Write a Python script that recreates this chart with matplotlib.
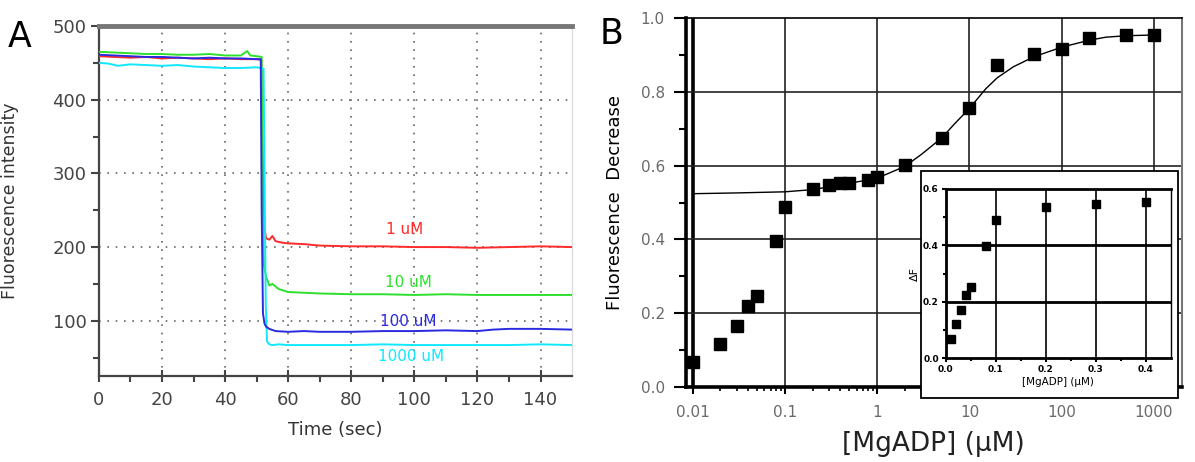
import numpy as np
import matplotlib.pyplot as plt
from matplotlib.patches import Rectangle
from matplotlib.ticker import FixedLocator, NullFormatter

# ---- panel A: fluorescence traces (time in sec, intensity) ----
t_red = [0, 5, 10, 15, 20, 25, 30, 35, 40, 45, 50, 51.5, 51.9, 52.3, 53, 54, 55, 56, 58,
         60, 65, 70, 80, 90, 100, 110, 120, 130, 140, 150]
f_red = [459, 458, 457, 458, 456, 457, 456, 455, 456, 455, 455, 454, 330, 230, 212, 210, 215, 208, 206,
         205, 204, 202, 201, 201, 200, 200, 199, 200, 201, 200]

t_green = [0, 5, 10, 15, 20, 25, 30, 35, 40, 45, 47, 48, 50, 51.6, 51.9, 52.3, 53, 54, 55, 57, 60, 65, 70,
           80, 90, 100, 110, 120, 130, 140, 150]
f_green = [465, 464, 463, 462, 462, 461, 461, 462, 460, 460, 466, 460, 459, 458, 260, 175, 160, 148, 150, 143, 139, 138, 137,
           136, 136, 135, 136, 135, 135, 135, 135]

t_blue = [0, 5, 10, 15, 20, 25, 30, 35, 40, 45, 50, 51.3, 51.6, 52, 52.5, 53, 54, 56,
          60, 65, 70, 80, 90, 100, 110, 120, 125, 130, 140, 150]
f_blue = [461, 460, 459, 458, 458, 457, 456, 457, 456, 456, 455, 455, 250, 110, 96, 92, 89, 86,
          85, 86, 85, 85, 86, 86, 87, 86, 88, 89, 89, 88]

t_cyan = [0, 3, 6, 10, 15, 20, 25, 30, 35, 40, 45, 50, 52.2, 52.5, 52.9, 53.3, 54, 55, 57,
          60, 70, 80, 90, 100, 110, 120, 130, 140, 150]
f_cyan = [450, 449, 446, 448, 447, 446, 447, 445, 444, 443, 443, 444, 442, 300, 120, 72, 68, 67, 68,
          67, 67, 67, 68, 67, 67, 67, 67, 68, 67]

trace_labels = ['1 uM', '10 uM', '100 uM', '1000 uM']
label_x = [97, 98, 98, 99]
label_y = [224, 152, 99, 52]

# ---- panel B: titration ----
conc = [0.01, 0.02, 0.03, 0.04, 0.05, 0.08, 0.1, 0.2, 0.3, 0.4, 0.5, 0.8, 1, 2, 5, 10, 20, 50, 100, 200, 500, 1000]
decr = [0.067, 0.117, 0.166, 0.220, 0.248, 0.395, 0.488, 0.537, 0.548, 0.554, 0.554, 0.561, 0.570, 0.602,
        0.674, 0.755, 0.872, 0.902, 0.917, 0.947, 0.953, 0.953]

fit_x = [0.0105, 0.03, 0.1, 0.2, 0.5, 1, 2, 3, 5, 7, 10, 15, 20, 30, 50, 100, 200, 300, 500, 1000]
fit_y = [0.524, 0.526, 0.529, 0.535, 0.552, 0.566, 0.598, 0.630, 0.675, 0.715, 0.755, 0.808, 0.838, 0.868,
         0.895, 0.921, 0.940, 0.948, 0.952, 0.954]

# inset (linear scale, low concentrations)
ins_x = [0.01, 0.02, 0.03, 0.04, 0.05, 0.08, 0.1, 0.2, 0.3, 0.4]
ins_y = [0.068, 0.122, 0.170, 0.226, 0.252, 0.398, 0.490, 0.537, 0.548, 0.555]

fig = plt.figure(figsize=(11.95, 4.62), dpi=100)

# ================= panel A =================
axA = fig.add_axes([0.0828, 0.1861, 0.3959, 0.7576])
axA.set_xlim(0, 150)
axA.set_ylim(25, 500)

cols = ['#ff2a2a', '#2ee02e', '#2a2ae0', '#10e8ff']
axA.plot(t_red, f_red, color=cols[0], lw=1.4, zorder=3)
axA.plot(t_green, f_green, color=cols[1], lw=1.4, zorder=3)
axA.plot(t_blue, f_blue, color=cols[2], lw=1.4, zorder=4)
axA.plot(t_cyan, f_cyan, color=cols[3], lw=1.4, zorder=3)

for lab, x, y, c in zip(trace_labels, label_x, label_y, cols):
    axA.text(x, y, lab, color=c, fontsize=11, ha='center', va='center', zorder=5)

dot = (0, (1, 4))
for xv in range(20, 150, 20):
    axA.axvline(xv, color='#666666', lw=1.2, ls=dot, zorder=1)
for yv in range(100, 500, 100):
    axA.axhline(yv, color='#666666', lw=1.2, ls=dot, zorder=1)

axA.set_xticks(range(0, 150, 20))
axA.set_xticks(range(10, 150, 20), minor=True)
axA.set_yticks(range(100, 501, 100))
axA.set_yticks(range(50, 500, 100), minor=True)
axA.tick_params(axis='x', which='major', direction='inout', length=9, width=1.5, color='#444444',
                labelsize=13, labelcolor='#444444', pad=6)
axA.tick_params(axis='x', which='minor', direction='out', length=4, width=1.5, color='#444444')
axA.tick_params(axis='y', which='major', direction='out', length=6, width=1.5, color='#444444',
                labelsize=13, labelcolor='#444444', pad=3)
axA.tick_params(axis='y', which='minor', direction='out', length=4, width=1.5, color='#444444')

axA.spines['left'].set_color('#444444')
axA.spines['left'].set_linewidth(1.6)
axA.spines['bottom'].set_color('#444444')
axA.spines['bottom'].set_linewidth(1.6)
axA.spines['top'].set_color('#777777')
axA.spines['top'].set_linewidth(3.5)
axA.spines['right'].set_color('#dddddd')
axA.spines['right'].set_linewidth(1.0)

axA.set_xlabel('Time (sec)', fontsize=13, color='#333333', labelpad=9)
axA.set_ylabel('Fluorescence intensity', fontsize=12.5, color='#333333')
axA.yaxis.set_label_coords(-0.168, 0.5)

fig.text(0.0167, 0.92, 'A', fontsize=25, ha='center', va='center')

# ================= panel B =================
axB = fig.add_axes([0.5738, 0.1623, 0.4151, 0.7987])
axB.set_xscale('log')
axB.set_xlim(0.0084, 2000)
axB.set_ylim(0, 1.0)

for xv in [0.1, 1, 10, 100, 1000]:
    axB.axvline(xv, color='#333333', lw=1.3, zorder=1)
axB.axvline(0.01, color='black', lw=2.6, zorder=1)
for yv in [0.2, 0.4, 0.6, 0.8]:
    axB.axhline(yv, color='#222222', lw=1.2, zorder=1)

axB.plot(fit_x, fit_y, color='black', lw=1.0, zorder=2)
axB.plot(conc, decr, ls='none', marker='s', ms=8.5, color='black', zorder=3)

axB.xaxis.set_major_locator(FixedLocator([0.01, 0.1, 1, 10, 100, 1000]))
minors = [m * d for d in [0.01, 0.1, 1, 10, 100, 1000] for m in range(2, 10) if m * d < 2000]
axB.xaxis.set_minor_locator(FixedLocator(minors))
axB.xaxis.set_minor_formatter(NullFormatter())
axB.set_xticklabels(['0.01', '0.1', '1', '10', '100', '1000'])
axB.set_yticks([0.0, 0.2, 0.4, 0.6, 0.8, 1.0])
axB.set_yticklabels(['0.0', '0.2', '0.4', '0.6', '0.8', '1.0'])
axB.set_yticks([0.1, 0.3, 0.5, 0.7, 0.9], minor=True)
axB.tick_params(axis='x', which='major', direction='out', length=5, width=1.5,
                labelsize=11, labelcolor='#6a6a6a', pad=8)
axB.tick_params(axis='x', which='minor', direction='out', length=3, width=1.2)
axB.tick_params(axis='y', which='major', direction='out', length=9, width=1.5,
                labelsize=11, labelcolor='#6a6a6a', pad=6)
axB.tick_params(axis='y', which='minor', direction='out', length=5, width=1.5)

axB.spines['left'].set_linewidth(2.6)
axB.spines['bottom'].set_linewidth(2.6)
axB.spines['top'].set_linewidth(1.2)
axB.spines['right'].set_color('#777777')
axB.spines['right'].set_linewidth(1.5)

axB.set_ylabel('Fluorescence  Decrease', fontsize=13, labelpad=4)
axB.yaxis.set_label_coords(-0.125, 0.5)
axB.set_xlabel('[MgADP] (μM)', fontsize=19, labelpad=8, color='#222222')

fig.text(0.512, 0.926, 'B', fontsize=25, ha='center', va='center')

# ---- inset box and axes ----
box = Rectangle((0.7707, 0.1385), 0.2151, 0.4913, transform=fig.transFigure,
                facecolor='white', edgecolor='black', lw=1.3, zorder=5)
fig.add_artist(box)

axI = fig.add_axes([0.7914, 0.2245, 0.1883, 0.3665])
axI.set_zorder(6)
axI.set_xlim(0, 0.45)
axI.set_ylim(0, 0.6)
for xv in [0.1, 0.2, 0.3, 0.4]:
    axI.axvline(xv, color='black', lw=1.2, zorder=1)
for yv in [0.2, 0.4]:
    axI.axhline(yv, color='black', lw=2.0, zorder=1)
axI.plot(ins_x, ins_y, ls='none', marker='s', ms=5.5, color='black', zorder=3)

axI.set_xticks([0.0, 0.1, 0.2, 0.3, 0.4])
axI.set_xticklabels(['0.0', '0.1', '0.2', '0.3', '0.4'])
axI.set_xticks([0.05, 0.15, 0.25, 0.35], minor=True)
axI.set_yticks([0.0, 0.2, 0.4, 0.6])
axI.set_yticklabels(['0.0', '0.2', '0.4', '0.6'])
axI.set_yticks([0.1, 0.3, 0.5], minor=True)
axI.tick_params(axis='both', which='major', direction='out', length=3, width=1.5,
                labelsize=6.5, pad=2)
axI.tick_params(axis='both', which='minor', direction='out', length=2, width=1.5)
for lab in axI.get_xticklabels() + axI.get_yticklabels():
    lab.set_fontweight('bold')
for s in ['left', 'bottom', 'top']:
    axI.spines[s].set_linewidth(2.0)
axI.spines['right'].set_linewidth(1.0)
axI.set_xlabel('[MgADP] (μM)', fontsize=7.5, labelpad=2)
axI.set_ylabel('ΔF', fontsize=8, labelpad=2)

fig.savefig('out.png', dpi=100)
